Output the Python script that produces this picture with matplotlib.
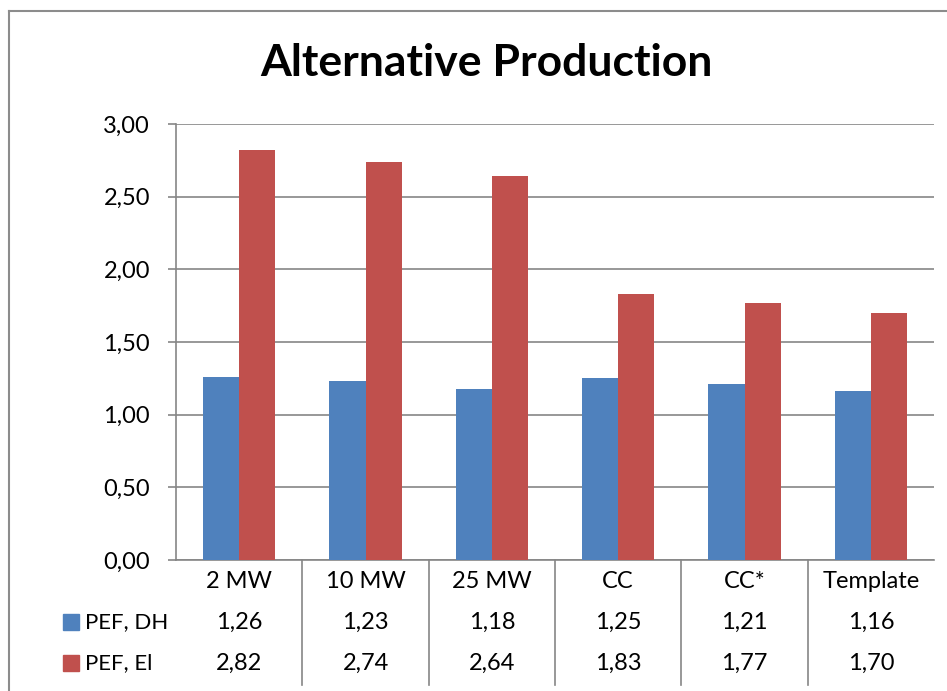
import matplotlib
matplotlib.use("Agg")
import matplotlib.pyplot as plt
import matplotlib.transforms as mtransforms
from matplotlib.lines import Line2D
from matplotlib.patches import Rectangle
import numpy as np

# Data
categories = ["2 MW", "10 MW", "25 MW", "CC", "CC*", "Template"]
series_names = ["PEF, DH", "PEF, El"]
pef_dh = [1.26, 1.23, 1.18, 1.25, 1.21, 1.16]
pef_el = [2.82, 2.74, 2.64, 1.83, 1.77, 1.70]
y_ticks = [0.0, 0.5, 1.0, 1.5, 2.0, 2.5, 3.0]
title = "Alternative Production"

BLUE = "#4F81BD"
RED = "#C0504D"
GRID = "#868686"
FONT = "Lato"

W, H = 947, 691
fig = plt.figure(figsize=(W / 100, H / 100), dpi=100)


def fx(px):
    return px / W


def fy(py):
    return 1 - py / H


def fmt(v):
    return f"{v:.2f}".replace(".", ",")


# chart frame
fig.add_artist(Line2D([fx(8.5), fx(8.5)], [fy(11), fy(700)], color="#8c8c8c", lw=1.5))
fig.add_artist(Line2D([fx(8.5), fx(960)], [fy(11), fy(11)], color="#8c8c8c", lw=1.5))

fig.text(fx(486), fy(63), title, ha="center", va="center",
         fontsize=32, fontweight="bold", family=FONT)

ax = fig.add_axes([fx(176), fy(560), fx(934) - fx(176), fy(124) - fy(560)])
x = np.arange(len(categories))
bw = 36 / 126.3
ax.bar(x - bw / 2, pef_dh, bw, color=BLUE, zorder=3)
ax.bar(x + bw / 2, pef_el, bw, color=RED, zorder=3)
ax.set_xlim(-0.5, len(categories) - 0.5)
ax.set_ylim(0, 3)

ax.set_yticks(y_ticks)
ax.set_yticklabels([fmt(v) for v in y_ticks], family=FONT, fontsize=17)
ax.tick_params(axis="y", length=5.76, width=1.2, color=GRID, pad=13)
ax.set_xticks([])
ax.yaxis.grid(True, color=GRID, lw=1.2)
ax.set_axisbelow(True)
for side in ("top", "right"):
    ax.spines[side].set_visible(False)
for side in ("left", "bottom"):
    ax.spines[side].set_color(GRID)
    ax.spines[side].set_linewidth(1.2)

# data table below the axis
tr = mtransforms.blended_transform_factory(ax.transData, fig.transFigure)
for b in np.arange(0.5, len(categories) - 1, 1.0):
    ax.add_line(Line2D([b, b], [fy(560), fy(685)], transform=tr, color=GRID,
                       lw=1.2, clip_on=False))

row_y = [582, 622, 663]
for i, cat in enumerate(categories):
    ax.text(i, fy(row_y[0]), cat, transform=tr, ha="center", va="center",
            fontsize=17, family=FONT)
    ax.text(i, fy(row_y[1]), fmt(pef_dh[i]), transform=tr, ha="center",
            va="center", fontsize=17, family=FONT)
    ax.text(i, fy(row_y[2]), fmt(pef_el[i]), transform=tr, ha="center",
            va="center", fontsize=17, family=FONT)

for name, color, ry in zip(series_names, [BLUE, RED], row_y[1:]):
    fig.add_artist(Rectangle((fx(63), fy(ry + 8)), fx(79) - fx(63),
                             fy(ry - 8) - fy(ry + 8), color=color,
                             transform=fig.transFigure))
    fig.text(fx(85), fy(ry), name, ha="left", va="center", fontsize=16,
             family=FONT)

fig.savefig("out.png", dpi=100)
